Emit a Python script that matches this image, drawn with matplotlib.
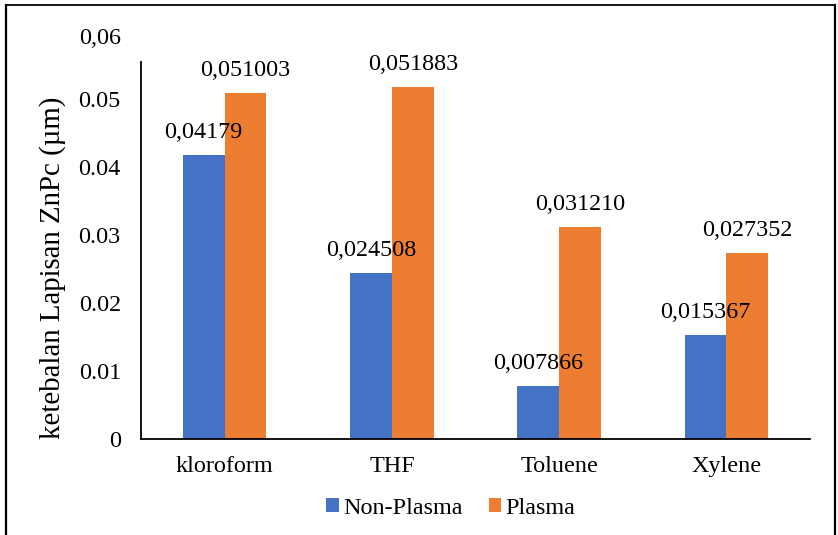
import matplotlib
matplotlib.use("Agg")
import matplotlib.pyplot as plt
from matplotlib.lines import Line2D
import numpy as np

categories = ["kloroform", "THF", "Toluene", "Xylene"]
non_plasma = [0.04179, 0.024508, 0.007866, 0.015367]
plasma = [0.051003, 0.051883, 0.031210, 0.027352]
non_plasma_labels = ["0,04179", "0,024508", "0,007866", "0,015367"]
plasma_labels = ["0,051003", "0,051883", "0,031210", "0,027352"]
ytick_values = [0, 0.01, 0.02, 0.03, 0.04, 0.05]
ytick_labels = ["0", "0.01", "0.02", "0.03", "0.04", "0.05"]
top_label = "0,06"
series_names = ["Non-Plasma", "Plasma"]
ylabel = "ketebalan Lapisan ZnPc (µm)"

plt.rcParams['font.family'] = ['Liberation Serif', 'DejaVu Serif']
FS = 17.4
BLUE = "#4472C4"
ORANGE = "#ED7D31"

fig = plt.figure(figsize=(8.38, 5.35), dpi=100)
ax = fig.add_axes([141/838, 1 - 439/535, (810-141)/838, (439-62)/535])

x = np.arange(len(categories))
w = 0.25
b1 = ax.bar(x - w/2, non_plasma, w, color=BLUE, label=series_names[0])
b2 = ax.bar(x + w/2, plasma, w, color=ORANGE, label=series_names[1])

for rect, lab in zip(b1, non_plasma_labels):
    ax.annotate(lab, (rect.get_x() + rect.get_width()/2, rect.get_height()),
                xytext=(0, 17), textcoords='offset pixels', ha='center',
                va='baseline', fontsize=FS)
for rect, lab in zip(b2, plasma_labels):
    ax.annotate(lab, (rect.get_x() + rect.get_width()/2, rect.get_height()),
                xytext=(0, 17), textcoords='offset pixels', ha='center',
                va='baseline', fontsize=FS)

ax.set_xlim(-0.5, len(categories) - 0.5)
ax.set_ylim(0, 0.0555)
ax.set_xticks(x)
ax.set_xticklabels(categories, fontsize=FS)
ax.set_yticks(ytick_values)
ax.set_yticklabels(ytick_labels, fontsize=FS)
ax.tick_params(axis='both', length=0)
ax.tick_params(axis='x', pad=12.5)
ax.tick_params(axis='y', pad=14.5)

# extra top tick label
ax.annotate(top_label, (0, 0.06), xycoords=('axes fraction', 'data'),
            xytext=(-20, -7), textcoords='offset pixels', ha='right',
            va='center', fontsize=FS, annotation_clip=False)

for s in ['top', 'right']:
    ax.spines[s].set_visible(False)
for s in ['left', 'bottom']:
    ax.spines[s].set_linewidth(1.3)
    ax.spines[s].set_color('black')

ax.set_ylabel(ylabel, fontsize=20.8)
ax.yaxis.set_label_coords(-0.112, 0.455)

fig.legend(handles=[b1, b2], labels=series_names, loc='center',
           bbox_to_anchor=(451/838, 1 - 508/535), ncol=2, frameon=False,
           fontsize=FS, handlelength=0.5, handleheight=0.52,
           handletextpad=0.21, columnspacing=1.05)

# figure frame
fig.add_artist(Line2D([6/838, 6/838], [0, 1 - 5/535], transform=fig.transFigure, color='black', lw=1.6))
fig.add_artist(Line2D([6/838, 835/838], [1 - 5/535, 1 - 5/535], transform=fig.transFigure, color='black', lw=1.3))
fig.add_artist(Line2D([835/838, 835/838], [0, 1 - 5/535], transform=fig.transFigure, color='black', lw=1.6))

fig.savefig("out.png", dpi=100)
